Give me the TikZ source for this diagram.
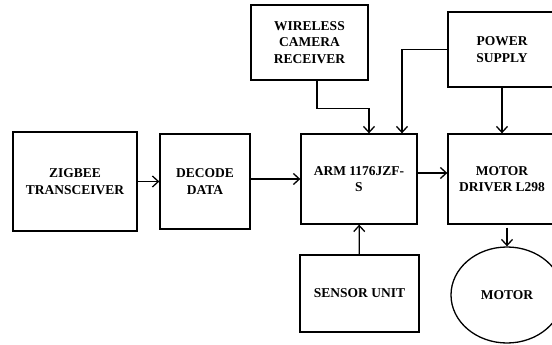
\documentclass[tikz,border=0pt]{standalone}
\usepackage{fontspec}
\setmainfont{Liberation Serif}
\usepackage{tikz}
\usetikzlibrary{shapes.geometric,arrows.meta}

\tikzset{
  blk/.style={draw, line width=1.3pt, rectangle, align=center,
    font=\fontsize{13.5}{16.5}\selectfont\bfseries, inner sep=2pt},
  arr/.style={-{Straight Barb[length=6pt,width=11pt]}, line width=1.3pt}
}

\begin{document}
\begin{tikzpicture}[x=1pt, y=-1pt]
\useasboundingbox (0,0) rectangle (552,345);
%%   kw   (name)   (x, y)   {text}
    \node[blk, minimum width=124pt, minimum height=99pt] (zig) at (75,181.5) {ZIGBEE\\TRANSCEIVER};
    \node[blk, minimum width=90pt, minimum height=95pt] (dec) at (205,181.5) {DECODE\\DATA};
    \node[blk, minimum width=116pt, minimum height=90pt] (arm) at (359,179) {ARM 1176JZF-\\S};
    \node[blk, minimum width=108pt, minimum height=90pt] (drv) at (502,179) {MOTOR\\DRIVER L298};
    \node[blk, minimum width=119pt, minimum height=77pt] (sens) at (359.5,293.5) {SENSOR UNIT};
    \node[blk, ellipse, minimum width=112pt, minimum height=96pt] (mot) at (507,295) {MOTOR};
    \node[blk, minimum width=117pt, minimum height=75pt] (wir) at (309.5,42.5) {WIRELESS\\CAMERA\\RECEIVER};
    \node[blk, minimum width=108pt, minimum height=75pt] (pwr) at (502,49.5) {POWER\\SUPPLY};

    \draw[arr] (zig) -- (dec);
    \draw[arr] (dec.east |- arm.west) -- (arm.west);
    \draw[arr] ([yshift=6pt]arm.east) -- ([yshift=6pt]drv.west);
    \draw[arr] ([xshift=7.5pt]wir.south) -- ++(0,28) -| ([xshift=10pt]arm.north);
    \draw[arr] (pwr.west) -| ([xshift=43pt]arm.north);
    \draw[arr] (pwr) -- (drv);
    \draw[arr] ([xshift=5pt, yshift=-3pt]drv.south) -- (mot.north);
    \draw[arr] (sens) -- (arm);
\end{tikzpicture}
\end{document}
